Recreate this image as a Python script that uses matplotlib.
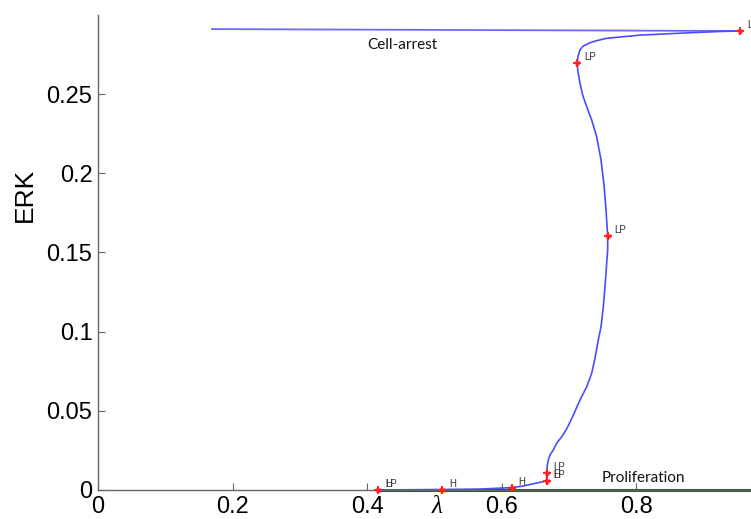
import matplotlib
matplotlib.use("Agg")
import matplotlib.pyplot as plt

# Main bifurcation branch (lambda, ERK)
branch_x = [0.9546, 0.9249, 0.8803, 0.8406, 0.8059, 0.7811, 0.7564, 0.7416, 0.7316,
            0.7216, 0.7167, 0.7138, 0.7127, 0.7133, 0.7167, 0.7207, 0.7267, 0.7341,
            0.7415, 0.7480, 0.7524, 0.7554, 0.7579, 0.7579, 0.7564, 0.7539, 0.7514,
            0.7480, 0.7439, 0.7390, 0.7341, 0.7267, 0.7167, 0.7068, 0.6969, 0.6895,
            0.6820, 0.6770, 0.6721, 0.6696, 0.6677, 0.6672, 0.6672, 0.6523, 0.6320,
            0.6152, 0.5680, 0.5115, 0.4164]
branch_y = [0.2898, 0.2895, 0.2887, 0.2879, 0.2872, 0.2862, 0.2852, 0.2837, 0.2824,
            0.2803, 0.2778, 0.2740, 0.2698, 0.2652, 0.2568, 0.2494, 0.2420, 0.2336,
            0.2230, 0.2083, 0.1926, 0.1768, 0.1604, 0.1515, 0.1431, 0.1283, 0.1157,
            0.1031, 0.0947, 0.0831, 0.0737, 0.0652, 0.0568, 0.0473, 0.0385, 0.0336,
            0.0295, 0.0253, 0.0221, 0.0189, 0.0147, 0.0109, 0.0057, 0.0044, 0.0025,
            0.0015, 0.0006, 0.0003, 0.0000]

# Upper (cell-arrest) branch
upper_x = [0.1695, 0.9546]
upper_y = [0.2910, 0.2898]

# Lower (proliferation) branch
lower_x = [0.4164, 0.975]
lower_y = [0.0, 0.0]

# Special points
sp_x = [0.9546, 0.7127, 0.7579, 0.6672, 0.6672, 0.6152, 0.5115, 0.4164]
sp_y = [0.2898, 0.2698, 0.1604, 0.0109, 0.0057, 0.0015, 0.0003, 0.0]
sp_lab = ["LP", "LP", "LP", "LP", "LP", "H", "H", "LP"]
# extra overlapping labels
extra_x = [0.6672, 0.4164]
extra_y = [0.0057, 0.0]
extra_lab = ["H", "H"]

xticks = [0, 0.2, 0.4, 0.6, 0.8]
yticks = [0, 0.05, 0.1, 0.15, 0.2, 0.25]

fig = plt.figure(figsize=(7.51, 5.19), dpi=100)
ax = fig.add_axes([98/751, 29/519, 1 - 98/751, (490-15)/519])
ax.set_xlim(0, 0.971)
ax.set_ylim(0, 0.2999)

ax.plot(upper_x, upper_y, color="#6a6aff", lw=1.3)
ax.plot(lower_x, lower_y, color="#2f3aa8", lw=2.2, clip_on=False)
ax.plot(branch_x, branch_y, color="#4c4cff", lw=1.2, clip_on=False)
ax.plot(sp_x, sp_y, linestyle="none", marker="+", ms=6, mew=1.4, color="#ff2020", clip_on=False, zorder=5)
ax.plot(sp_x, sp_y, linestyle="none", marker="x", ms=3.5, mew=1.0, color="#ff2020", clip_on=False, zorder=5)

for x, y, t in zip(sp_x, sp_y, sp_lab):
    ax.annotate(t, (x, y), xytext=(5, 2), textcoords="offset points", fontsize=7,
                color="#333333", family="Liberation Sans", annotation_clip=False)
for x, y, t in zip(extra_x, extra_y, extra_lab):
    ax.annotate(t, (x, y), xytext=(5, 2), textcoords="offset points", fontsize=7,
                color="#333333", family="Liberation Sans", annotation_clip=False)

ax.text(0.452, 0.281, "Cell-arrest", fontsize=11, family="Lato", color="#111111",
        ha="center", va="center")
ax.text(0.7493, 0.0076, "Proliferation", fontsize=11, family="Lato", color="#111111",
        ha="left", va="center")

ax.set_xticks(xticks)
ax.set_yticks(yticks)
ax.set_xticklabels(["0", "0.2", "0.4", "0.6", "0.8"])
ax.set_yticklabels(["0", "0.05", "0.1", "0.15", "0.2", "0.25"])
ax.tick_params(direction="in", length=5, width=0.8, color="#666666", labelsize=17,
               pad=4)
for lab in ax.get_xticklabels() + ax.get_yticklabels():
    lab.set_family("Liberation Sans")

for s in ["top", "right"]:
    ax.spines[s].set_visible(False)
for s in ["left", "bottom"]:
    ax.spines[s].set_color("#666666")
    ax.spines[s].set_linewidth(1.0)

fig.text(25/751, 1 - 195/519, "ERK", rotation=90, fontsize=19, family="Liberation Sans",
         ha="center", va="center")
fig.text(437/751, 1 - 507/519, "λ", fontsize=18, family="Liberation Serif", style="italic",
         ha="center", va="center")

fig.savefig("out.png", dpi=100)
